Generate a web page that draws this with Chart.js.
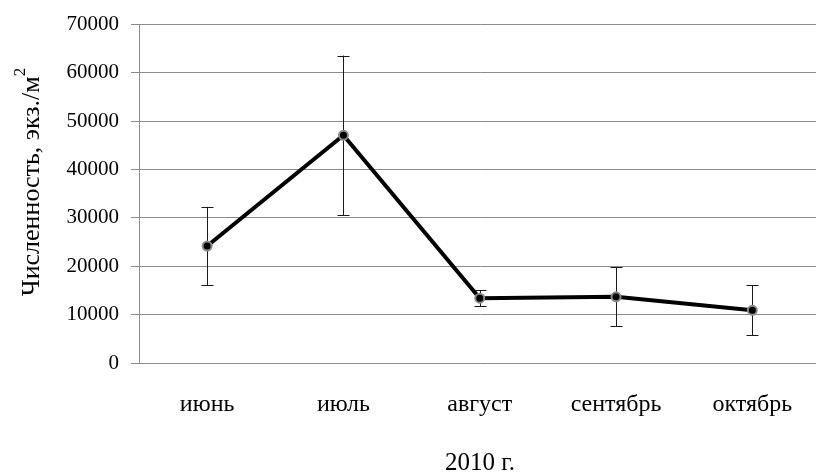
<!DOCTYPE html>
<html>
<head>
<meta charset="utf-8">
<script src="https://cdn.jsdelivr.net/npm/chart.js@4"></script>
<style>
  html, body { margin: 0; padding: 0; background: #fff; overflow: hidden; }
  #wrap { width: 816px; height: 473px; overflow: hidden; }
</style>
</head>
<body>
<div id="wrap"><canvas id="c" width="827" height="473"></canvas></div>
<script>
// Monthly abundance (ind./m²), 2010
const months = ['июнь', 'июль', 'август', 'сентябрь', 'октябрь'];
const meanDensity = [24200, 47100, 13400, 13700, 10900];
const errorDensity = [8100, 16500, 1650, 6100, 5200];
const yTicks = [0, 10000, 20000, 30000, 40000, 50000, 60000, 70000];

const SERIF = '"Liberation Serif", "Times New Roman", serif';

// Vertical error bars with short caps, drawn under the line and markers
const errorBars = {
  id: 'errorBars',
  beforeDatasetsDraw(chart) {
    const { ctx, scales: { x, y } } = chart;
    ctx.save();
    ctx.strokeStyle = '#1a1a1a';
    ctx.lineWidth = 1;
    months.forEach((m, i) => {
      const px = Math.round(x.getPixelForValue(i)) + 0.5;
      const top = y.getPixelForValue(meanDensity[i] + errorDensity[i]);
      const bot = y.getPixelForValue(meanDensity[i] - errorDensity[i]);
      ctx.beginPath();
      ctx.moveTo(px, top); ctx.lineTo(px, bot);
      ctx.moveTo(px - 6, Math.round(top) + 0.5); ctx.lineTo(px + 6, Math.round(top) + 0.5);
      ctx.moveTo(px - 6, Math.round(bot) + 0.5); ctx.lineTo(px + 6, Math.round(bot) + 0.5);
      ctx.stroke();
    });
    ctx.restore();
  }
};

// Axis titles: rotated y title with a raised "2", and the year under the x axis
const axisTitles = {
  id: 'axisTitles',
  afterDraw(chart) {
    const { ctx } = chart;
    ctx.save();
    ctx.fillStyle = '#000';
    ctx.translate(30, 182);
    ctx.rotate(-Math.PI / 2);
    ctx.font = '26px ' + SERIF;
    const main = 'Численность, экз./м';
    const w = ctx.measureText(main).width;
    ctx.font = '17px ' + SERIF;
    const w2 = ctx.measureText('2').width;
    const start = -(w + w2) / 2;
    ctx.textBaseline = 'alphabetic';
    ctx.textAlign = 'left';
    ctx.font = '26px ' + SERIF;
    ctx.fillText(main, start, 9);
    ctx.font = '17px ' + SERIF;
    ctx.fillText('2', start + w, -5);
    ctx.restore();

    ctx.save();
    ctx.fillStyle = '#000';
    ctx.font = '25px ' + SERIF;
    ctx.textAlign = 'center';
    ctx.textBaseline = 'alphabetic';
    ctx.fillText('2010 г.', 480, 470);
    ctx.restore();
  }
};

new Chart(document.getElementById('c'), {
  type: 'line',
  data: {
    labels: months,
    datasets: [{
      data: meanDensity,
      borderColor: '#000',
      borderWidth: 4,
      tension: 0,
      pointRadius: 4.5,
      pointBackgroundColor: '#000',
      pointBorderColor: '#8a8a8a',
      pointBorderWidth: 2
    }]
  },
  options: {
    responsive: false,
    devicePixelRatio: 1,
    animation: false,
    layout: { padding: { top: 23, left: 0, right: 0, bottom: 0 } },
    plugins: { legend: { display: false }, tooltip: { enabled: false } },
    scales: {
      x: {
        type: 'category',
        offset: true,
        grid: { display: false, drawTicks: false },
        border: { display: false },
        ticks: { color: '#000', font: { family: SERIF, size: 24 }, padding: 27, maxRotation: 0 },
        afterFit(s) { s.height = 110; }
      },
      y: {
        min: 0,
        max: 70000,
        afterBuildTicks(s) { s.ticks = yTicks.map(v => ({ value: v })); },
        grid: { color: '#8c8c8c', lineWidth: 1, tickLength: 8 },
        border: { color: '#8c8c8c' },
        ticks: {
          color: '#000',
          font: { family: SERIF, size: 21 },
          padding: 12,
          callback: v => String(v)
        },
        afterFit(s) { s.width = 139; }
      }
    }
  },
  plugins: [errorBars, axisTitles]
});
</script>
</body>
</html>
